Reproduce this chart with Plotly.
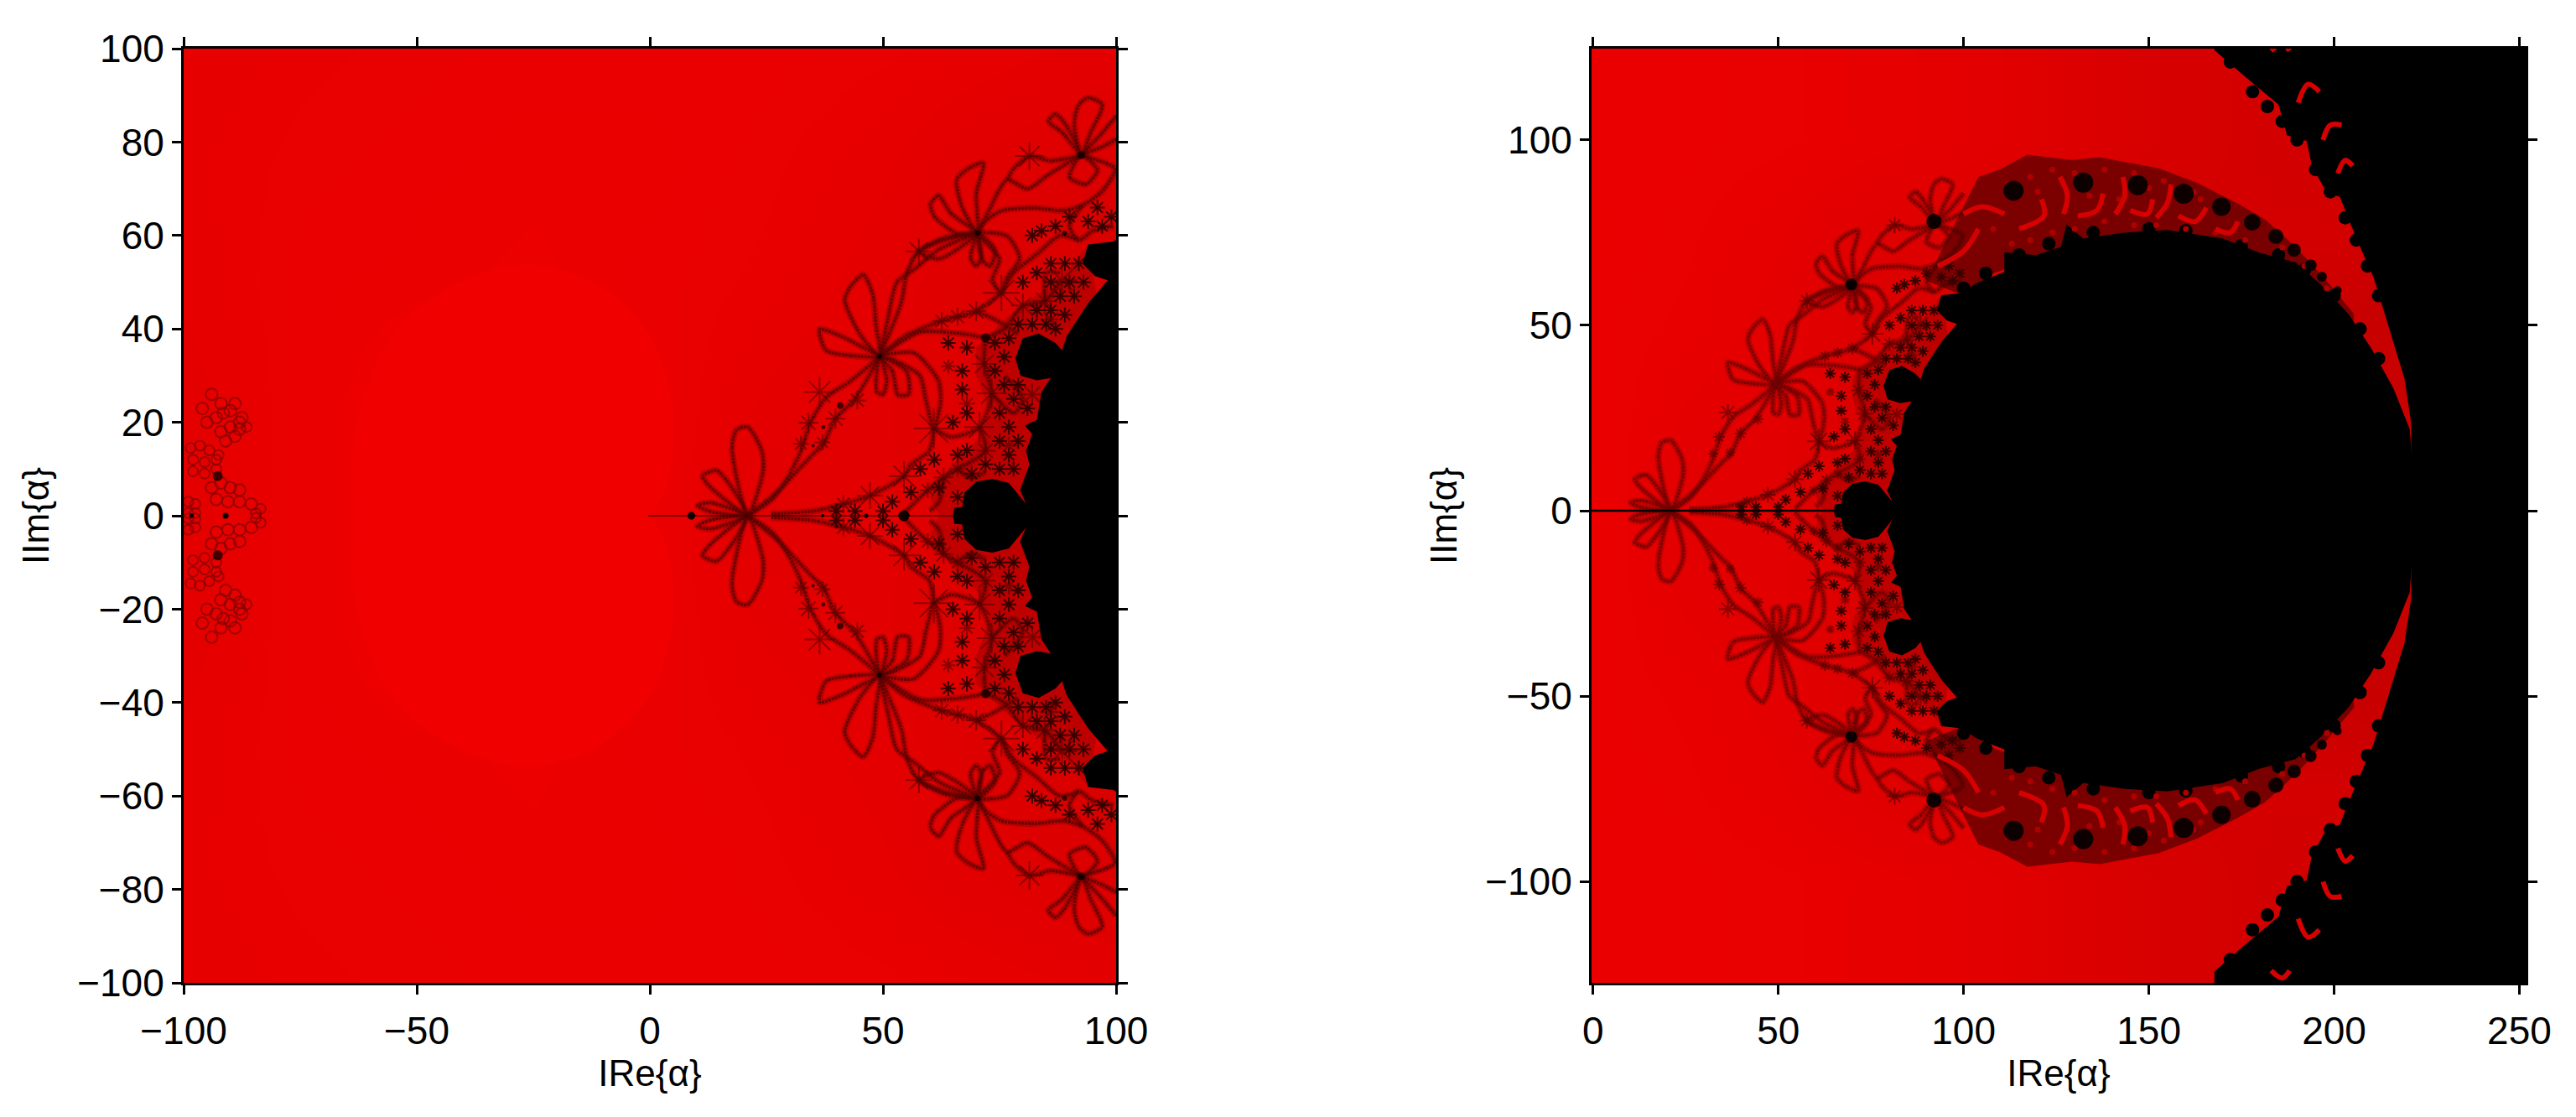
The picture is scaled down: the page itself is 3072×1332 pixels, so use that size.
import plotly.graph_objects as go

# ---------- data (upper half; the picture is symmetric about y=0) ----------
X_TICKS_L = [-100, -50, 0, 50, 100]
Y_TICKS_L = [-100, -80, -60, -40, -20, 0, 20, 40, 60, 80, 100]
X_TICKS_R = [0, 50, 100, 150, 200, 250]
Y_TICKS_R = [-100, -50, 0, 50, 100]
X_LABEL = "IRe{α}"
Y_LABEL = "IIm{α}"

GRID_X = [-100, -75, -50, -25, 0, 25, 50, 75, 100, 125, 150, 175, 200, 225, 252]
GRID_Y = [0, 25, 50, 75, 100, 128]
GRID_RED = [
    [228, 234, 238, 238, 236, 226, 226, 222, 215, 205, 200, 200, 200, 200, 200],
    [228, 234, 238, 238, 235, 229, 226, 220, 212, 205, 200, 200, 200, 200, 200],
    [230, 234, 235, 236, 234, 232, 228, 220, 215, 208, 205, 200, 200, 200, 200],
    [231, 233, 234, 235, 235, 233, 230, 224, 220, 214, 210, 212, 212, 200, 200],
    [230, 232, 233, 234, 234, 234, 233, 231, 228, 222, 216, 212, 208, 200, 200],
    [228, 232, 233, 234, 234, 234, 233, 231, 228, 222, 216, 212, 208, 200, 200],
]

OVAL = [(-63.4, 0), (-63, 18.6), (-56.3, 36.9), (-44, 48.3), (-26.4, 53.7), (-10.6, 49),
        (0, 38.4), (5, 21.6), (3.5, 6.4), (0, 0)]

DISK = [(65, 0), (65.3, 1.7), (67, 1.9), (67.5, 5), (70, 7.3), (73.5, 7.9), (77, 7), (79.5, 4),
        (80.7, 2.5), (79.4, 5.5), (81.4, 10.9), (80.7, 13.9), (82, 17.5), (80.4, 19.3), (83, 20.5),
        (84, 26.5), (86, 29.5), (83, 29), (79.5, 30), (78.4, 33.7), (80, 38), (83.4, 39), (87, 37),
        (88.4, 35.4), (89.4, 38.4), (92.1, 42.6), (94.1, 45.6), (98.2, 50.4), (95.5, 51.3),
        (92.8, 54), (94, 58.1), (99.4, 58.7), (103.6, 61.4), (111, 64.4), (111, 69.7), (119.5, 68.9),
        (126.3, 71.2), (127.8, 77.2), (132.3, 73.4), (143.6, 75), (155, 75.7), (170, 73.4),
        (179.8, 69.6), (189.6, 67), (196.4, 61), (203.9, 53), (209.9, 44), (216, 33), (220.4, 22),
        (222, 0)]

OUTER = [(220.8, 23.6), (219, 35.6), (216, 45.4), (213.7, 53), (210.7, 62.8), (207.7, 69.6),
         (203.9, 78.6), (201.6, 84.6), (197.9, 86), (194, 93), (192.6, 99.7), (187.3, 101.2),
         (185, 109.5), (176, 117), (167.7, 124.2), (167.7, 129), (253, 129), (253, 0), (222, 0)]

OUTER_BUMPS_X = [172, 178, 182, 186, 190, 195, 199, 203, 206, 209, 212]
OUTER_BUMPS_Y = [121, 113, 109, 105, 100, 92, 86, 79, 73, 66, 58]

DISK_BUMPS_X = [100, 106, 115, 123, 135, 150, 160, 175, 185, 192, 200, 207, 212]
DISK_BUMPS_Y = [60, 64, 69, 72, 75, 76, 75.5, 71.5, 69, 65, 58, 49, 41]

MESH = [(62, 0), (60, 4), (64, 10), (70, 16), (73, 22), (70, 30), (70, 36), (76, 42), (84, 48), (90, 53),
        (94, 58), (96, 46), (90, 36), (84, 20), (82, 8), (80, 0)]

MESH_X = [66, 69, 72, 75, 78, 77, 75, 79, 77, 75, 78, 81, 76, 79, 74, 76, 74, 77, 79, 82, 85, 87, 83, 86, 89,
          88, 91, 93, 90, 86, 92, 89, 86, 83, 80, 94, 97, 99, 96, 90, 87, 84, 82, 62, 68, 66, 65, 68, 67, 64,
          68, 67, 61, 58, 56, 52, 50, 44, 40]
MESH_Y = [4, 9, 11, 10, 10, 13, 16, 16, 19, 22, 25, 23, 28, 28, 31, 34, 37, 38, 41, 41, 41, 40, 44, 44, 43,
          47, 47, 50, 50, 50, 54, 54, 54, 52, 50, 63, 62, 64, 66, 64, 62, 61, 60, 6, 14, 13, 20, 22, 27, 37,
          36, 31, 12, 10, 5, 3, 1, 1, 1]

BAND = [(90, 62), (97, 76), (104, 90), (109.7, 92), (117.2, 96), (129.3, 94.6), (136.8, 95.3), (152.7, 92.3),
        (163, 88.4), (173.7, 83), (181.3, 78.6), (186.5, 74), (191.8, 68.8), (197.9, 62), (205.4, 53),
        (205, 48), (190, 64), (170, 72), (130, 72), (108, 64), (100, 58)]

BAND_HOLES = [
    [(93, 66), (100, 70), (104, 76)],
    [(100, 80), (105, 82), (111, 80)],
    [(121, 84), (121.7, 79.5), (115, 76)],
    [(126, 90), (128, 85), (127, 80)],
    [(137.6, 85.5), (136, 81), (130.8, 79.5)],
    [(143, 90), (143.5, 85), (141, 80)],
    [(151, 84), (149.6, 80), (145, 81)],
    [(156, 88), (155, 83), (152, 79)],
    [(165.5, 81.7), (162.5, 78), (158, 79.5)],
    [(174, 78), (172, 75), (168, 76)],
    [(190.3, 110), (193, 115), (196, 113)],
    [(197, 100), (199, 104), (202, 104)],
    [(201, 91), (203, 94.5), (205, 93)],
    [(183, 124), (186, 126), (188, 124)],
]

BAND_FLECKS_X = [112, 118, 124, 130, 138, 146, 154, 162, 170, 178, 184, 108, 113, 118, 124, 130, 138, 146, 152,
                 160, 168, 176, 186, 192, 198, 120, 128, 134, 142, 150, 164]
BAND_FLECKS_Y = [88, 90, 92, 91, 92, 91, 89, 86, 82, 78, 74, 76, 72, 73, 75, 76, 78, 77, 77,
                 76, 75, 73, 71, 66, 60, 86, 86, 85, 84, 87, 84]

RIGHT_BLOTS_X = [69.7, 92, 113.5, 132.3, 147, 159.4, 169.6, 177.9, 184.3, 189.2, 193.7, 196.7, 200.9]
RIGHT_BLOTS_Y = [61, 78, 86.3, 88.5, 87.8, 85.5, 82, 77.8, 74, 70.3, 66.2, 63.1, 59.4]
RIGHT_BLOTS_SIZE = [14, 18, 24, 24, 24, 24, 22, 20, 18, 16, 14, 12, 10]

FILAMENTS = [
    [(21, 0), (17.6, 14.5), (18.6, 18.4), (21, 19), (24, 13.9), (24.3, 9.7), (21, 0)],
    [(21, 0), (13, 6.1), (11.3, 8.5), (14.3, 9.7), (17.6, 6), (21, 0)],
    [(21, 0), (13, 0.9), (10.2, 2.2), (13, 2.8), (21, 0)],
    [(21, 0), (26.4, 3.7), (29.7, 8.5), (32.4, 13.9), (34.4, 19.9), (37.8, 25.3), (43.1, 28.9), (49.3, 34.1)],
    [(21, 0), (27.7, 5.5), (31.7, 9.7), (35.1, 13.3), (37.1, 15.1), (39.8, 20.8), (43.8, 24.8), (49.3, 34.1)],
    [(49.3, 34.1), (48.5, 40.8), (47.8, 47.4), (45.8, 51.6), (43.1, 49.2), (41.8, 46.2), (45, 39), (49.3, 34.1)],
    [(49.3, 34.1), (43.1, 34.3), (37.8, 35.4), (36.4, 39.9), (41.1, 38.4), (45.8, 36), (49.3, 34.1)],
    [(49.3, 34.1), (48.5, 29), (48.7, 26.5), (50, 26), (50.8, 29), (49.3, 34.1)],
    [(49.3, 34.1), (52, 31), (53.2, 25.9), (55.5, 26), (55, 31), (49.3, 34.1)],
    [(49.3, 34.1), (56.6, 34.9), (61.9, 28.9), (62.3, 24), (60.9, 18.7), (59.2, 24.7), (57.9, 30), (52, 33.5), (49.3, 34.1)],
    [(49.3, 34.1), (54.5, 38.4), (62.6, 41.7), (70, 43.8), (75.4, 47.7)],
    [(49.3, 34.1), (57.9, 39.3), (66.6, 39), (72, 38.1)],
    [(60.9, 18.7), (59.9, 13.9), (55.9, 10.9), (54.5, 8.5), (47.2, 4.3), (41.5, 2.5), (35, 1), (26, 0.4)],
    [(60.9, 18.7), (64.6, 16.9), (70.7, 19), (73.3, 26.2), (71.7, 32.5), (72, 38.1)],
    [(70.7, 19), (72, 13.9), (66, 10), (63, 8.2), (59.6, 5.5), (54.5, 0.5)],
    [(73.3, 26.2), (78, 22), (80, 25), (76, 30)],
    [(72, 38.1), (76, 40), (80, 45), (84.7, 45.9), (88.4, 50.4)],
    [(70, 43.8), (74, 42), (79, 39)],
    [(49.3, 34.1), (53.9, 45.6), (55.2, 52.2), (57.7, 56.6), (63, 59), (70.3, 60.5)],
    [(49.3, 34.1), (51, 42), (53, 50), (57, 53), (62, 57), (70.3, 60.5)],
    [(70.3, 60.5), (70, 68.9), (71.5, 75.5), (68.2, 74.3), (65.8, 71.9), (67, 66), (70.3, 60.5)],
    [(70.3, 60.5), (64.6, 64.7), (61.9, 68.6), (60.2, 66.7), (61, 64.1), (65.8, 60.5), (70.3, 60.5)],
    [(70.3, 60.5), (63, 59.5), (59, 57.5), (57.7, 56.6), (62, 55), (70.3, 60.5)],
    [(70.3, 60.5), (76.6, 59.9), (79.3, 55.1), (76.6, 51), (75.4, 47.7), (73.5, 50.5), (75, 55), (72, 58.5), (70.3, 60.5)],
    [(70.3, 60.5), (68.8, 55.1), (70, 53.5), (71, 55), (70.3, 60.5)],
    [(70.3, 60.5), (71.5, 54.5), (73, 53.5), (74, 57), (70.3, 60.5)],
    [(70.3, 60.5), (71.8, 62.9), (75.4, 65.3), (82.6, 65.9), (88.6, 65.3), (92.8, 66.5), (97, 69.5), (99.7, 74.3), (92.5, 77.2)],
    [(70.3, 60.5), (72.4, 64.7), (76.6, 71.9), (81, 70), (85.6, 73.1), (92.5, 77.2)],
    [(76.6, 71.9), (78, 74.3), (81.4, 77), (86, 76), (92.5, 77.2)],
    [(92.5, 77.2), (91, 84), (92, 88), (94, 89.5), (97, 88), (94.5, 82), (92.5, 77.2)],
    [(92.5, 77.2), (88.5, 82), (85.5, 84.5), (87, 86), (89, 84), (92.5, 77.2)],
    [(92.5, 77.2), (97, 82), (100, 85.6)],
    [(92.5, 77.2), (97, 79), (100, 80.6)],
    [(92.5, 77.2), (90, 72.5), (93.5, 71), (96, 74), (92.5, 77.2)],
    [(92.8, 66.5), (90, 62), (92, 59), (95, 61), (99.5, 62)],
    [(75.4, 47.7), (78, 52), (83, 56), (88, 60), (92, 59)],
    [(84.7, 45.9), (85, 52), (88, 52)],
    [(66, 10), (69, 8), (72, 9.5)],
    [(63, 8.2), (62, 3), (60, 1)],
]

AXIS_LINE = [(-0.4, 0), (65, 0)]

FLOWERS_X = [60.9, 54.5, 47.2, 41.5, 70.7, 73.3, 71.7, 75.4, 80, 84.7, 88.4, 70, 66, 62.6, 36.4, 34, 39.8, 32.4, 37, 44.5, 72, 59.6, 63, 66, 81.4, 57.7, 77, 82, 86, 74, 68, 64]
FLOWERS_Y = [18.7, 8.5, 4.3, 2.5, 19, 26.2, 32.5, 47.7, 45, 45.9, 50.4, 43.8, 42.6, 41.7, 26.5, 19.9, 20.8, 15.4, 15.7, 24.7, 13.9, 5.5, 8.2, 10, 77, 56.6, 15, 26, 42, 5, 24, 32]
FLOWERS_SIZE = [40, 30, 26, 18, 30, 30, 26, 36, 24, 24, 30, 20, 18, 18, 30, 20, 20, 16, 16, 18, 20, 16, 20, 16, 28, 26, 18, 22, 18, 14, 16, 14]

SPOTS_X = [40.8, 37.2, 72, 54.5, 8.9, 46.4, 37, 35, 89, -92.7, -91, -98.3, 92.5, 70.3, 49.3]
SPOTS_Y = [23.6, 19, 38.1, 0, 0, 0, 0, 15, 60.5, 8.5, 0, 0, 77.2, 60.5, 34.1]
SPOTS_SIZE = [8, 5, 11, 13, 9, 5, 4, 4, 6, 12, 7, 5, 9, 7, 6]

RINGS_X = [-94, -92, -90, -88, -96, -93, -90, -87.5, -95, -92, -89, -88, -91, -86.5, -89, -91.5,
           -98.5, -96.5, -94.5, -92.5, -98, -95.5, -93, -98, -95.5, -93,
           -94, -92, -90, -88, -93, -90.5, -88,
           -85.5, -83.5, -84.5, -99, -97.5, -99, -97.5]
RINGS_Y = [26, 24, 22.5, 20, 23, 21, 19, 21, 20, 18, 17, 18.5, 16, 19, 24, 22,
           14.5, 15, 14, 13, 12, 11.5, 12, 9.5, 9, 10,
           6, 7, 6, 5.5, 3.5, 3, 3,
           2.5, 1.5, 0.5, 3, 2.5, 0.6, 0.6]
RINGS_SIZE = [14, 14, 14, 14, 14, 14, 14, 14, 14, 14, 14, 14, 14, 12, 14, 14,
              12, 12, 12, 12, 12, 12, 12, 12, 12, 12,
              14, 14, 14, 14, 14, 14, 14,
              14, 12, 12, 12, 12, 12, 12]


# ---------- helpers ----------
def mirrored_polygon(pts):
    xs = [p[0] for p in pts] + [p[0] for p in reversed(pts)]
    ys = [p[1] for p in pts] + [-p[1] for p in reversed(pts)]
    return xs, ys


def paths(list_of_paths):
    xs, ys = [], []
    for path in list_of_paths:
        for sign in (1, -1):
            xs += [p[0] for p in path] + [None]
            ys += [sign * p[1] for p in path] + [None]
    return xs, ys


def two_x(v):
    return list(v) + list(v)


def two_y(v):
    return list(v) + [-a for a in v]


heat_y = [-a for a in reversed(GRID_Y[1:])] + GRID_Y
heat_z = list(reversed(GRID_RED[1:])) + GRID_RED

fig = go.Figure()


def add_panel(xa, ya, is_left):
    common = dict(xaxis=xa, yaxis=ya, showlegend=False, hoverinfo="skip")
    fig.add_trace(go.Heatmap(x=GRID_X, y=heat_y, z=heat_z, zmin=0, zmax=255, zsmooth="best", showscale=False,
                             colorscale=[[0, "rgb(0,0,0)"], [1, "rgb(255,0,0)"]], xaxis=xa, yaxis=ya, hoverinfo="skip"))
    if is_left:
        ox, oy = mirrored_polygon(OVAL)
        fig.add_trace(go.Scatter(x=ox, y=oy, mode="lines", line=dict(width=0, shape="spline"), fill="toself",
                                 fillcolor="rgb(241,0,0)", **common))
    for sign in (1, -1):
        fig.add_trace(go.Scatter(x=[p[0] for p in MESH], y=[sign * p[1] for p in MESH], mode="lines",
                                 line=dict(width=0), fill="toself", fillcolor="rgba(80,0,0,0.2)", **common))
    fx, fy = paths(FILAMENTS)
    fig.add_trace(go.Scatter(x=fx, y=fy, mode="lines", connectgaps=False,
                             line=dict(color="rgba(90,0,0,0.28)", width=8, shape="spline", smoothing=0.7), **common))
    fig.add_trace(go.Scatter(x=fx, y=fy, mode="lines", connectgaps=False,
                             line=dict(color="rgba(85,0,0,0.8)" if is_left else "rgba(110,0,0,0.85)",
                                       width=3.5, shape="spline", smoothing=0.7,
                                       dash="3px,1px"), **common))
    fig.add_trace(go.Scatter(x=two_x(FLOWERS_X), y=two_y(FLOWERS_Y), mode="markers",
                             marker=dict(symbol="asterisk-open", color="rgba(80,0,0,0.85)",
                                         size=[s * (1 if is_left else 0.6) for s in FLOWERS_SIZE * 2],
                                         line=dict(color="rgba(80,0,0,0.85)", width=2)), **common))
    fig.add_trace(go.Scatter(x=two_x(MESH_X), y=two_y(MESH_Y), mode="markers",
                             marker=dict(symbol="asterisk-open", color="rgb(55,0,0)", size=15 if is_left else 11,
                                         line=dict(color="rgb(55,0,0)", width=2)), **common))
    ax, ay = [p[0] for p in AXIS_LINE], [p[1] for p in AXIS_LINE]
    fig.add_trace(go.Scatter(x=ax, y=ay, mode="lines",
                             line=dict(color="rgb(70,0,0)" if is_left else "black", width=1.5 if is_left else 2.5), **common))
    if is_left:
        fig.add_trace(go.Scatter(x=two_x(RINGS_X), y=two_y(RINGS_Y), mode="markers",
                                 marker=dict(symbol="circle-open", color="rgb(130,0,0)", size=RINGS_SIZE * 2,
                                             line=dict(color="rgb(130,0,0)", width=2)), **common))
    else:
        for sign in (1, -1):
            fig.add_trace(go.Scatter(x=[p[0] for p in BAND], y=[sign * p[1] for p in BAND], mode="lines",
                                     line=dict(width=0), fill="toself", fillcolor="rgba(60,0,0,0.6)", **common))
    for pts in (DISK, OUTER):
        px, py = mirrored_polygon(pts)
        fig.add_trace(go.Scatter(x=px, y=py, mode="lines", line=dict(width=0, color="black"), fill="toself",
                                 fillcolor="black", **common))
    if not is_left:
        fig.add_trace(go.Scatter(x=two_x(DISK_BUMPS_X + OUTER_BUMPS_X), y=two_y(DISK_BUMPS_Y + OUTER_BUMPS_Y),
                                 mode="markers", marker=dict(color="black", size=16, line=dict(width=0)), **common))
        fig.add_trace(go.Scatter(x=two_x(BAND_FLECKS_X), y=two_y(BAND_FLECKS_Y), mode="markers",
                                 marker=dict(color="rgb(175,0,0)", size=7, line=dict(width=0)), **common))
        hx, hy = paths(BAND_HOLES)
        fig.add_trace(go.Scatter(x=hx, y=hy, mode="lines", connectgaps=False,
                                 line=dict(color="rgb(215,0,0)", width=6, shape="spline"), **common))
        fig.add_trace(go.Scatter(x=two_x(RIGHT_BLOTS_X), y=two_y(RIGHT_BLOTS_Y), mode="markers",
                                 marker=dict(color="black", size=RIGHT_BLOTS_SIZE * 2, opacity=0.9,
                                             line=dict(width=0)), **common))
    else:
        fig.add_trace(go.Scatter(x=two_x(SPOTS_X), y=two_y(SPOTS_Y), mode="markers",
                                 marker=dict(color="black", size=SPOTS_SIZE * 2, line=dict(width=0)), **common))


add_panel("x", "y", True)
add_panel("x2", "y2", False)

FONT = "Liberation Sans"
axis = dict(showgrid=False, zeroline=False, showline=True, linecolor="black", linewidth=3, mirror="allticks",
            ticks="outside", ticklen=11, tickwidth=3, tickcolor="black",
            tickfont=dict(family=FONT, size=46, color="black"), automargin=False)
title_font = dict(family=FONT, size=44, color="black")

OFF = 7  # the browser's default page margin
dom_y = [1 - (1171 - OFF) / 1332, 1 - (57 - OFF) / 1332]

fig.update_layout(
    width=3072, height=1332, margin=dict(l=0, r=0, t=0, b=0), paper_bgcolor="white", plot_bgcolor="white",
    showlegend=False,
    xaxis=dict(axis, domain=[(218 - OFF) / 3072, (1330 - OFF) / 3072], range=[-100, 100], tickvals=X_TICKS_L,
               ticklabelstandoff=4, title=dict(text=X_LABEL, font=title_font, standoff=10)),
    yaxis=dict(axis, domain=dom_y, range=[-100, 100], tickvals=Y_TICKS_L,
               title=dict(text=Y_LABEL, font=title_font, standoff=20)),
    xaxis2=dict(axis, domain=[(1897 - OFF) / 3072, (3011 - OFF) / 3072], range=[-0.4, 251.7], tickvals=X_TICKS_R,
                anchor="y2", ticklabelstandoff=4, title=dict(text=X_LABEL, font=title_font, standoff=10)),
    yaxis2=dict(axis, domain=dom_y, range=[-127.3, 124.6], tickvals=Y_TICKS_R, anchor="x2",
                title=dict(text=Y_LABEL, font=title_font, standoff=20)),
)

fig.write_html("out.html")
